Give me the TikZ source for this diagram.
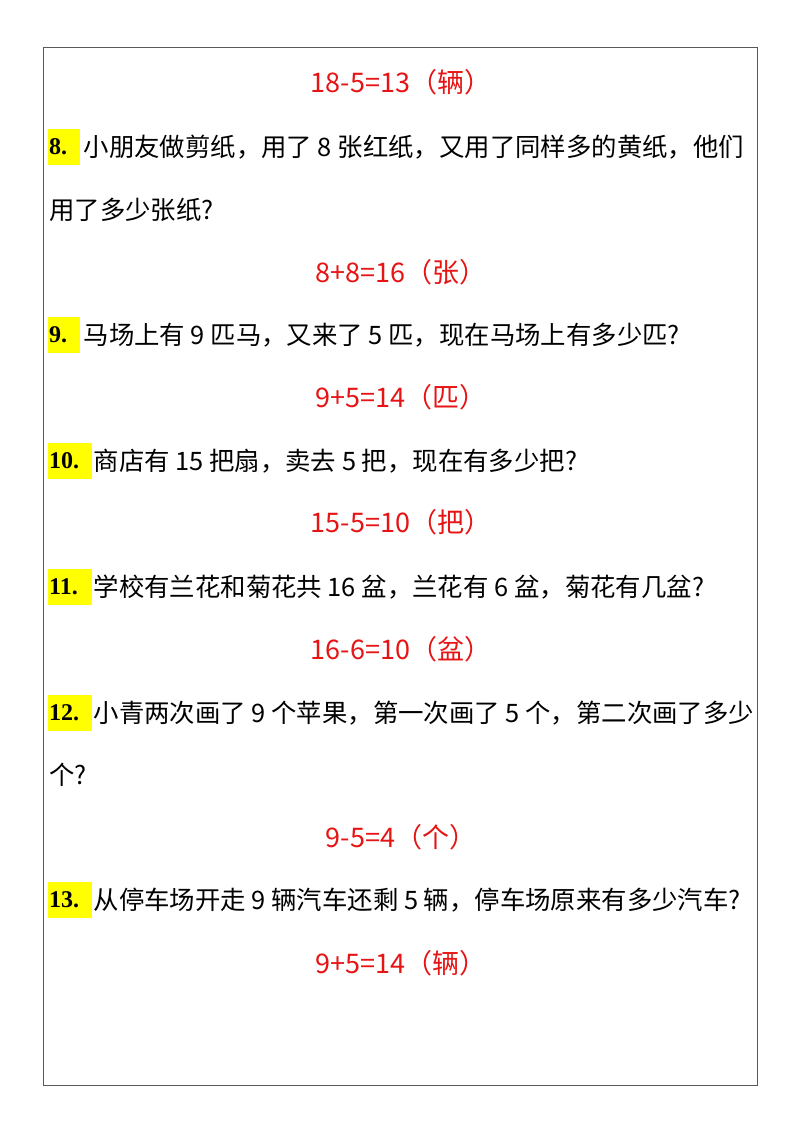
\documentclass[tikz,border=0pt]{standalone}
\usepackage{fontspec}
\newfontfamily\cjk{Noto Sans CJK SC}
\newfontfamily\lbl{Liberation Serif}
\definecolor{ans}{RGB}{230,20,20}
\definecolor{hl}{RGB}{255,255,0}
\begin{document}
\begin{tikzpicture}[x=1pt,y=-1pt,
  txt/.style={font=\cjk\fontsize{25.4}{30}\selectfont, inner sep=0pt, anchor=west},
  eq/.style={font=\cjk\fontsize{27}{30}\selectfont, inner sep=0pt, text=ans},
  num/.style={font=\lbl\bfseries\fontsize{24}{26}\selectfont, fill=hl, anchor=west, inner xsep=1pt, text width=30pt, minimum height=36pt},
  numw/.style={num, text width=42pt}]
\useasboundingbox (0,0) rectangle (800,1132);
\draw[gray!70!black, line width=0.8pt] (43,47) rectangle (757,1085);
\node[eq] (e7) at (401,82) {18-5=13（辆）};
\node[num] (n8) at (48,147) {8.};
\node[txt] (t8) at ([xshift=3pt]n8.east) {小朋友做剪纸，用了 8 张红纸，又用了同样多的黄纸，他们};
\node[txt] (t8b) at (49,210) {用了多少张纸?};
\node[eq] (e8) at (401,272) {8+8=16（张）};
\node[num] (n9) at (48,335) {9.};
\node[txt] (t9) at ([xshift=3pt]n9.east) {马场上有 9 匹马，又来了 5 匹，现在马场上有多少匹?};
\node[eq] (e9) at (401,397) {9+5=14（匹）};
\node[numw] (n10) at (48,461) {10.};
\node[txt] (t10) at ([xshift=1pt]n10.east) {商店有 15 把扇，卖去 5 把，现在有多少把?};
\node[eq] (e10) at (401,522) {15-5=10（把）};
\node[numw] (n11) at (48,587) {11.};
\node[txt] (t11) at ([xshift=1pt]n11.east) {学校有兰花和菊花共 16 盆，兰花有 6 盆，菊花有几盆?};
\node[eq] (e11) at (401,649) {16-6=10（盆）};
\node[numw] (n12) at (48,713) {12.};
\node[txt] (t12) at ([xshift=1pt]n12.east) {小青两次画了 9 个苹果，第一次画了 5 个，第二次画了多少};
\node[txt] (t12b) at (49,775) {个?};
\node[eq] (e12) at (401,837) {9-5=4（个）};
\node[numw] (n13) at (48,900) {13.};
\node[txt] (t13) at ([xshift=1pt]n13.east) {从停车场开走 9 辆汽车还剩 5 辆，停车场原来有多少汽车?};
\node[eq] (e13) at (401,963) {9+5=14（辆）};
\end{tikzpicture}
\end{document}
